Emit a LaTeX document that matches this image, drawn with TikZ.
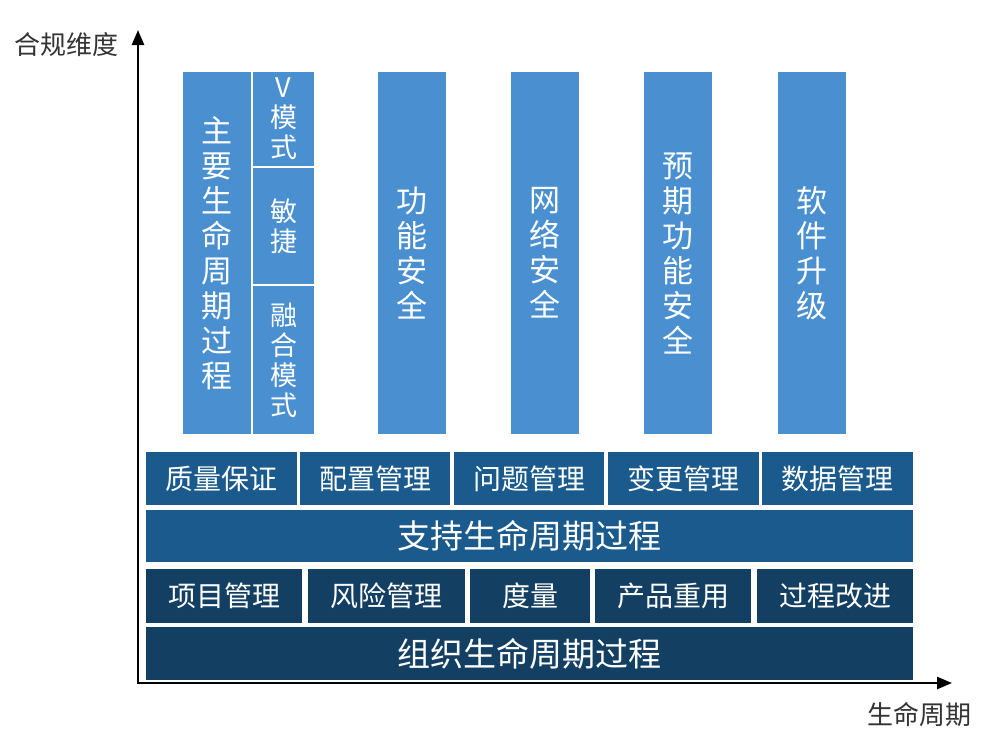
\documentclass[tikz,border=0pt]{standalone}
\usepackage{fontspec}
\setmainfont{Noto Sans CJK SC}
\usetikzlibrary{arrows.meta}

\definecolor{colblue}{HTML}{4A8FD0}
\definecolor{supblue}{HTML}{1A5A8C}
\definecolor{orgblue}{HTML}{133F63}
\definecolor{labgray}{HTML}{333333}

\tikzset{
	topcol/.style={fill=colblue, text=white, inner sep=0pt, align=center, minimum width=68, minimum height=362, font=\fontsize{31}{35}\selectfont},
	subcol/.style={fill=colblue, text=white, inner sep=0pt, align=center, minimum width=61, font=\fontsize{27}{30}\selectfont},
	supbox/.style={fill=supblue, text=white, inner sep=0pt, minimum height=53, font=\fontsize{28}{30}\selectfont},
	orgbox/.style={fill=orgblue, text=white, inner sep=0pt, minimum height=54, font=\fontsize{28}{30}\selectfont},
	axlabel/.style={text=labgray, inner sep=0pt, font=\fontsize{26}{28}\selectfont},
	axis/.style={line width=2.5pt, {Triangle[length=15pt,width=12pt]}-{Triangle[length=15pt,width=12pt]}}
}

\begin{document}
\begin{tikzpicture}[x=1pt, y=-1pt]
			\useasboundingbox (0,0) rectangle (1002,732);

			% axes
			\coordinate (o) at (138,683);
			\coordinate (ytop) at (138,30);
			\coordinate (xend) at (952,683);
			\draw[axis] (ytop) -- (o) -- (xend);
			\node[axlabel] (ylab) at (66,45) {合规维度};
			\node[axlabel] (xlab) at (919,715) {生命周期};

			% main life cycle column
			\node[topcol] (main) at (217,253) {主\\要\\生\\命\\周\\期\\过\\程};
			\node[subcol, minimum height=94] (vmode) at (283.5,119) {V\\模\\式};
			\node[subcol, minimum height=116] (agile) at (283.5,226) {敏\\捷};
			\node[subcol, minimum height=148] (mixed) at (283.5,360) {融\\合\\模\\式};

			% other columns
			\node[topcol] (fusa) at (412,253) {功\\能\\安\\全};
			\node[topcol] (cyber) at (545,253) {网\\络\\安\\全};
			\node[topcol] (sotif) at (678,253) {预\\期\\功\\能\\安\\全};
			\node[topcol] (ota) at (811.5,253) {软\\件\\升\\级};

			% supporting processes
			\node[supbox, minimum width=151] (qa) at (221.5,478.5) {质量保证};
			\node[supbox, minimum width=150] (cm) at (375,478.5) {配置管理};
			\node[supbox, minimum width=150] (pm) at (529,478.5) {问题管理};
			\node[supbox, minimum width=151] (chg) at (683.5,478.5) {变更管理};
			\node[supbox, minimum width=151] (dm) at (837.5,478.5) {数据管理};
			\node[supbox, minimum width=767, minimum height=52, font=\fontsize{33}{35}\selectfont] (sup) at (529.5,536) {支持生命周期过程};

			% organizational processes
			\node[orgbox, minimum width=156] (proj) at (224,596) {项目管理};
			\node[orgbox, minimum width=157] (risk) at (386.5,596) {风险管理};
			\node[orgbox, minimum width=120] (meas) at (530,596) {度量};
			\node[orgbox, minimum width=156] (reuse) at (673,596) {产品重用};
			\node[orgbox, minimum width=156] (impr) at (835,596) {过程改进};
			\node[orgbox, minimum width=767, minimum height=53, font=\fontsize{33}{35}\selectfont] (org) at (529.5,653.5) {组织生命周期过程};
		\end{tikzpicture}
\end{document}
